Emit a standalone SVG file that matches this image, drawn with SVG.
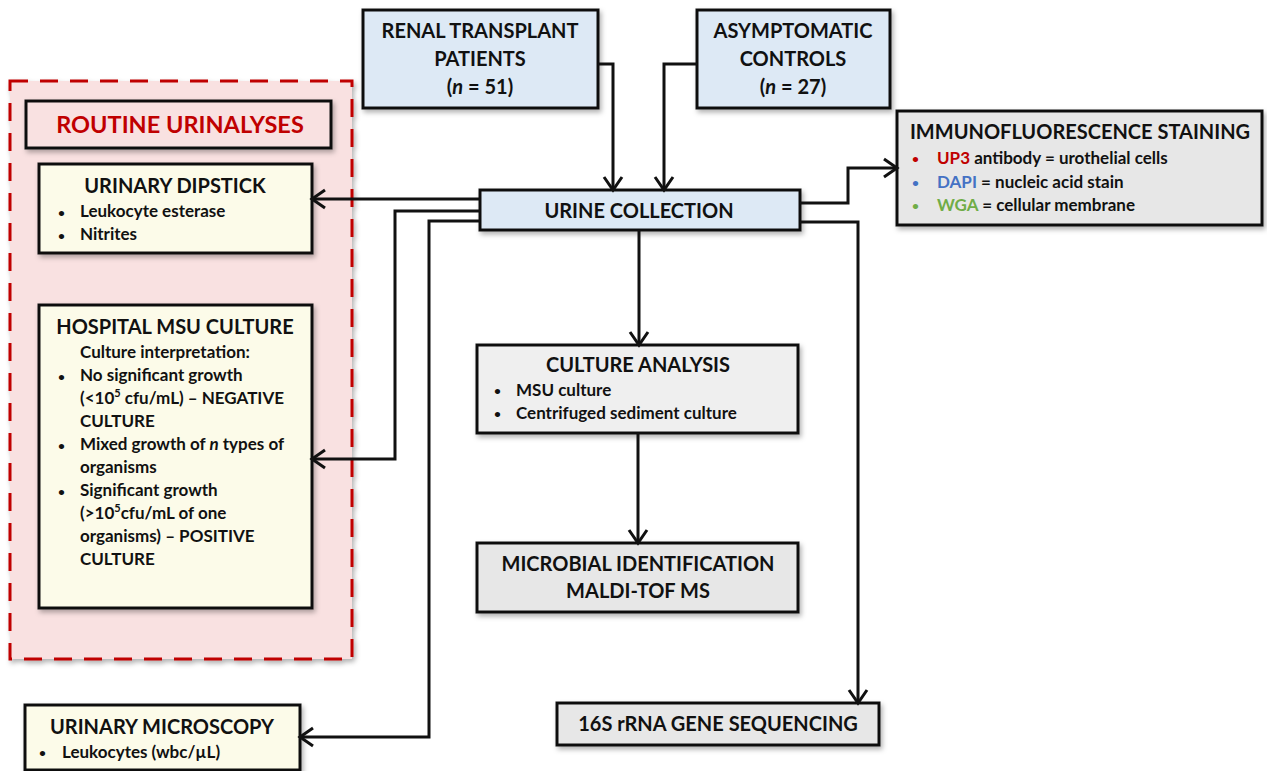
<svg xmlns="http://www.w3.org/2000/svg" width="1267" height="771" viewBox="0 0 1267 771">
<style>
text{font-family:Lato,"Open Sans","Liberation Sans",sans-serif;font-weight:bold;fill:#111}
.t{font-size:20px}
.b{font-size:17px}
.d{font-size:12px}
.c{text-anchor:middle}
.box{stroke:#111;stroke-width:3}
.blue{fill:#dde9f5}
.cream{fill:#fcfbe9}
.grey{fill:#e7e7e7}
.lgrey{fill:#efefef}
.conn{fill:none;stroke:#111;stroke-width:3}
</style>
<defs>
<filter id="sh" x="-10%" y="-10%" width="130%" height="140%">
<feDropShadow dx="2" dy="3" stdDeviation="2.5" flood-color="#000" flood-opacity="0.3"/>
</filter>
<marker id="arr" markerUnits="userSpaceOnUse" markerWidth="18" markerHeight="22" viewBox="0 0 18 22" refX="15" refY="11" orient="auto">
<path d="M2,2 L15,11 L2,20" fill="none" stroke="#111" stroke-width="3"/>
</marker>
</defs>

<g id="routine-group">
<rect x="10" y="81" width="342" height="578" fill="#f9e1e1" stroke="#c00000" stroke-width="3" stroke-dasharray="18,12" filter="url(#sh)"/>
</g>
<g id="routine-title">
<rect class="box" x="26" y="101" width="305" height="47" fill="#f9e1e1" filter="url(#sh)"/>
<text class="c" x="180" y="133" style="font-size:23.5px;fill:#c00000">ROUTINE URINALYSES</text>
</g>

<g id="dipstick">
<rect class="box cream" x="39" y="164" width="273" height="89" filter="url(#sh)"/>
<text class="t c" x="175" y="193">URINARY DIPSTICK</text>
<text class="d" x="58" y="217">•</text><text class="b" x="80" y="217">Leukocyte esterase</text>
<text class="d" x="58" y="240">•</text><text class="b" x="80" y="240">Nitrites</text>
</g>

<g id="msu">
<rect class="box cream" x="39" y="305" width="273" height="303" filter="url(#sh)"/>
<text class="t c" x="175" y="334">HOSPITAL MSU CULTURE</text>
<text class="b" x="80" y="358">Culture interpretation:</text>
<text class="d" x="58" y="381">•</text><text class="b" x="80" y="381">No significant growth</text>
<text class="b" x="80" y="404">(&lt;10<tspan font-size="11" dy="-7">5</tspan><tspan dy="7"> cfu/mL) – NEGATIVE</tspan></text>
<text class="b" x="80" y="427">CULTURE</text>
<text class="d" x="58" y="450">•</text><text class="b" x="80" y="450">Mixed growth of <tspan font-style="italic">n</tspan> types of</text>
<text class="b" x="80" y="473">organisms</text>
<text class="d" x="58" y="496">•</text><text class="b" x="80" y="496">Significant growth</text>
<text class="b" x="80" y="519">(&gt;10<tspan font-size="11" dy="-7">5</tspan><tspan dy="7">cfu/mL of one</tspan></text>
<text class="b" x="80" y="542">organisms) – POSITIVE</text>
<text class="b" x="80" y="565">CULTURE</text>
</g>

<g id="renal">
<rect class="box blue" x="363" y="10" width="235" height="98" filter="url(#sh)"/>
<text class="t c" x="480" y="38">RENAL TRANSPLANT</text>
<text class="t c" x="480" y="66">PATIENTS</text>
<text class="t c" x="480" y="94">(<tspan font-style="italic">n</tspan> = 51)</text>
</g>

<g id="controls">
<rect class="box blue" x="697" y="10" width="193" height="98" filter="url(#sh)"/>
<text class="t c" x="793" y="38">ASYMPTOMATIC</text>
<text class="t c" x="793" y="66">CONTROLS</text>
<text class="t c" x="793" y="94">(<tspan font-style="italic">n</tspan> = 27)</text>
</g>

<g id="urine">
<rect class="box blue" x="480" y="190" width="320" height="40" filter="url(#sh)"/>
<text class="t c" x="639" y="218">URINE COLLECTION</text>
</g>

<g id="immuno">
<rect class="box grey" x="897" y="111" width="365" height="114" filter="url(#sh)"/>
<text class="t c" x="1080" y="139">IMMUNOFLUORESCENCE STAINING</text>
<text class="d" x="912" y="163" style="fill:#c00000">•</text><text class="b" x="937" y="164"><tspan fill="#c00000">UP3</tspan> antibody = urothelial cells</text>
<text class="d" x="912" y="187" style="fill:#4472c4">•</text><text class="b" x="937" y="188"><tspan fill="#4472c4">DAPI</tspan> = nucleic acid stain</text>
<text class="d" x="912" y="210" style="fill:#70ad47">•</text><text class="b" x="937" y="211"><tspan fill="#70ad47">WGA</tspan> = cellular membrane</text>
</g>

<g id="culture">
<rect class="box lgrey" x="477" y="345" width="321" height="88" filter="url(#sh)"/>
<text class="t c" x="638" y="372">CULTURE ANALYSIS</text>
<text class="d" x="494" y="395">•</text><text class="b" x="516" y="396">MSU culture</text>
<text class="d" x="494" y="418">•</text><text class="b" x="516" y="419">Centrifuged sediment culture</text>
</g>

<g id="maldi">
<rect class="box grey" x="477" y="543" width="321" height="69" filter="url(#sh)"/>
<text class="t c" x="638" y="571">MICROBIAL IDENTIFICATION</text>
<text class="t c" x="638" y="598">MALDI-TOF MS</text>
</g>

<g id="seq">
<rect class="box grey" x="557" y="703" width="322" height="42" filter="url(#sh)"/>
<text class="t c" x="718" y="731">16S rRNA GENE SEQUENCING</text>
</g>

<g id="microscopy">
<rect class="box cream" x="25" y="705" width="275" height="65" filter="url(#sh)"/>
<text class="t c" x="162" y="734">URINARY MICROSCOPY</text>
<text class="d" x="39" y="757">•</text><text class="b" x="62" y="758">Leukocytes (wbc/µL)</text>
</g>

<g id="connectors">
<polyline class="conn" points="598,64 613,64 613,190" marker-end="url(#arr)"/>
<polyline class="conn" points="697,64 664,64 664,190" marker-end="url(#arr)"/>
<polyline class="conn" points="800,203 848,203 848,168 897,168" marker-end="url(#arr)"/>
<polyline class="conn" points="480,199 312,199" marker-end="url(#arr)"/>
<polyline class="conn" points="480,211 395,211 395,459 312,459" marker-end="url(#arr)"/>
<polyline class="conn" points="480,221 429,221 429,737 300,737" marker-end="url(#arr)"/>
<polyline class="conn" points="639,230 639,345" marker-end="url(#arr)"/>
<polyline class="conn" points="638,433 638,543" marker-end="url(#arr)"/>
<polyline class="conn" points="800,222 858,222 858,703" marker-end="url(#arr)"/>
</g>
</svg>
